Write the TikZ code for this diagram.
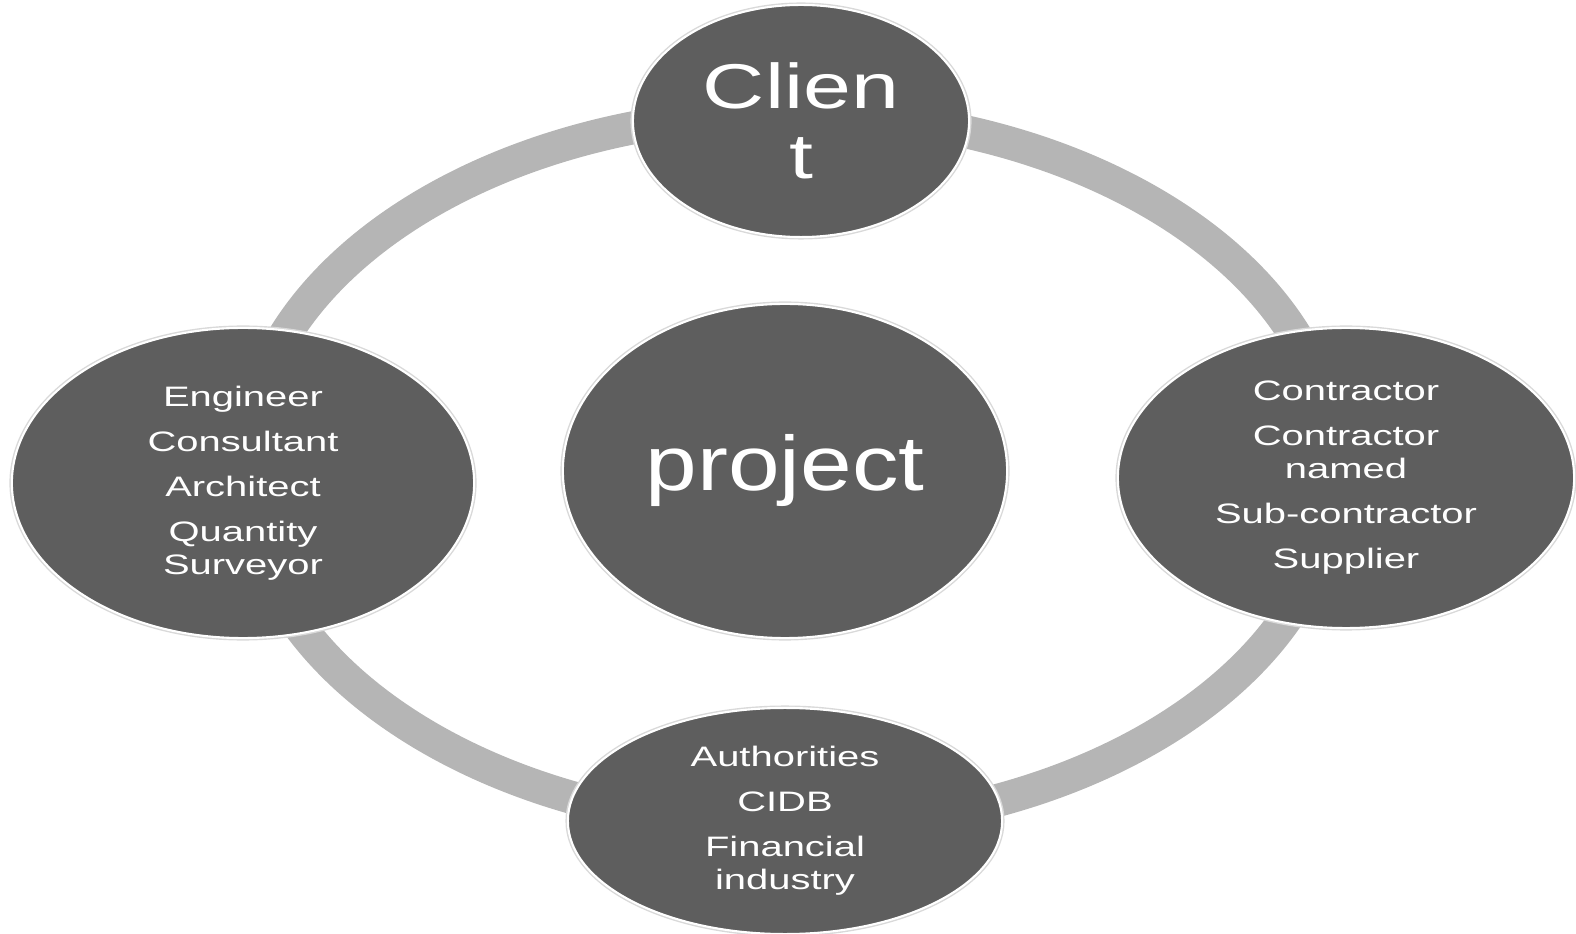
\documentclass[tikz,border=0pt]{standalone}
\usepackage{fontspec}
\usetikzlibrary{shapes.geometric}
\newfontfamily\bubblefont[FakeStretch=1.42]{Liberation Sans}
\newfontfamily\clientfont[FakeStretch=1.36]{Liberation Sans}
\newfontfamily\projectfont[FakeStretch=1.2]{Liberation Sans}
\definecolor{bubblegray}{HTML}{5E5E5E}
\definecolor{ringgray}{HTML}{B5B5B5}
\tikzset{
	bubble/.style={ellipse,fill=bubblegray,draw=white,line width=0.6pt,
		preaction={draw=black!15,line width=1.4pt},
		inner sep=0pt,text=white,align=center,
		font=\bubblefont\fontsize{8}{9.4}\selectfont},
	ring/.style={draw=ringgray,line width=0.33cm}
}

\begin{document}
\begin{tikzpicture}[x=0.01cm,y=-0.01cm]
		\useasboundingbox (0,0) rectangle (1576,934);
		\draw[ring] (790,470) ellipse [x radius=5.45cm,y radius=3.57cm];
		\node[bubble,minimum width=3.36cm,minimum height=2.32cm,font=\clientfont\fontsize{18}{19.9}\selectfont] (client) at (801,121) {Clien\\t};
		\node[bubble,minimum width=4.62cm,minimum height=3.10cm] (consult) at (243,483) {Engineer\\[3.4pt]Consultant\\[3.4pt]Architect\\[3.4pt]Quantity\\Surveyor};
		\node[bubble,minimum width=4.44cm,minimum height=3.34cm,font=\projectfont\fontsize{22}{24}\selectfont] (project) at (785,471) {project};
		\node[bubble,minimum width=4.56cm,minimum height=3.00cm] (contract) at (1346,478) {Contractor\\[3.4pt]Contractor\\named\\[3.4pt]Sub-contractor\\[3.4pt]Supplier};
		\node[bubble,minimum width=4.34cm,minimum height=2.26cm] (authority) at (785,821) {Authorities\\[3.4pt]CIDB\\[3.4pt]Financial\\industry};
	\end{tikzpicture}
\end{document}
